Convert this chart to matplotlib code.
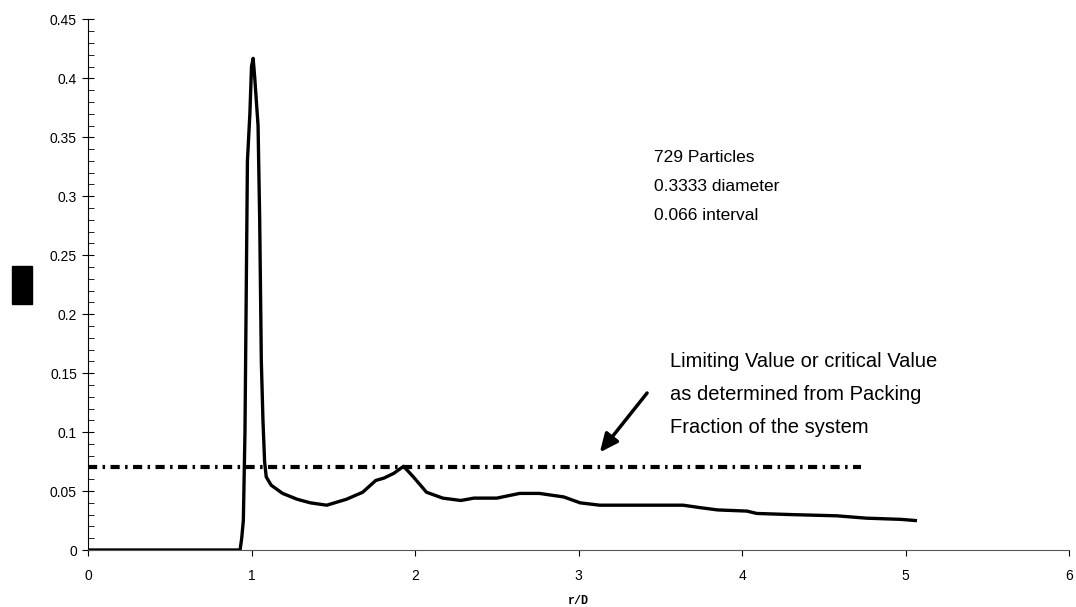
import matplotlib.pyplot as plt
from matplotlib.patches import Rectangle

# g(r) curve
r_over_d = [0.0, 0.5, 0.93, 0.94, 0.95, 0.96, 0.975, 0.99, 1.0, 1.01, 1.02, 1.04,
            1.05, 1.06, 1.07, 1.08, 1.09, 1.12, 1.19, 1.28, 1.36, 1.46, 1.58, 1.68,
            1.76, 1.81, 1.87, 1.93, 1.99, 2.07, 2.17, 2.28, 2.36, 2.50, 2.64, 2.76,
            2.91, 3.01, 3.13, 3.31, 3.64, 3.74, 3.85, 4.03, 4.09, 4.31, 4.58, 4.76,
            4.97, 5.06]
g_values = [0.0, 0.0, 0.0, 0.01, 0.025, 0.10, 0.33, 0.37, 0.41, 0.417, 0.40, 0.36,
            0.28, 0.16, 0.11, 0.075, 0.062, 0.055, 0.048, 0.043, 0.040, 0.038, 0.043, 0.049,
            0.059, 0.061, 0.065, 0.071, 0.062, 0.049, 0.044, 0.042, 0.044, 0.044, 0.048, 0.048,
            0.045, 0.040, 0.038, 0.038, 0.038, 0.036, 0.034, 0.033, 0.031, 0.030, 0.029, 0.027,
            0.026, 0.025]

limit_value = 0.07
limit_x = [0.0, 4.73]

info_text = "729 Particles\n0.3333 diameter\n0.066 interval"
note_text = "Limiting Value or critical Value\nas determined from Packing\nFraction of the system"

plt.rcParams['font.family'] = ['Liberation Sans', 'DejaVu Sans']

fig = plt.figure(figsize=(10.76, 6.07), dpi=100)
ax = fig.add_axes([0.0818, 0.0939, 0.9117, 0.8741])

ax.plot(r_over_d, g_values, color='black', lw=2.4, solid_joinstyle='round')
ax.plot(limit_x, [limit_value, limit_value], color='black', lw=3,
        linestyle=(0, (2.2, 1.3, 0.6, 1.3)))

ax.set_xlim(0, 6)
ax.set_ylim(0, 0.45)
ax.set_xticks(range(0, 7))
ax.set_yticks([i * 0.05 for i in range(10)])
ax.set_yticklabels(['0', '0.05', '0.1', '0.15', '0.2', '0.25', '0.3', '0.35', '0.4', '0.45'])
ax.set_yticks([i * 0.01 for i in range(46)], minor=True)

for s in ['top', 'right']:
    ax.spines[s].set_visible(False)
ax.spines['left'].set_linewidth(0.8)
ax.spines['bottom'].set_linewidth(0.8)
ax.spines['bottom'].set_color('#555555')

ax.tick_params(axis='y', which='major', direction='inout', length=8, width=0.8,
               labelsize=10, pad=4)
ax.tick_params(axis='y', which='minor', direction='in', length=4, width=0.6)
ax.tick_params(axis='x', which='major', direction='out', length=4, width=0.8,
               labelsize=10, pad=10)

ax.set_xlabel('r/D', family='Liberation Mono', fontweight='bold', fontsize=8.5,
              labelpad=8)

ax.text(3.46, 0.339, info_text, fontsize=12.5, linespacing=2.15, va='top', ha='left')
ax.text(3.56, 0.168, note_text, fontsize=14.5, linespacing=1.95, va='top', ha='left')
ax.annotate('', xy=(3.12, 0.081), xytext=(3.43, 0.135),
            arrowprops=dict(arrowstyle='-|>,head_length=1.1,head_width=0.5',
                            color='black', lw=2.5))

# black box where the y label sits
fig.patches.append(Rectangle((12 / 1076, 1 - 304 / 607), 20 / 1076, 38 / 607,
                             transform=fig.transFigure, color='black'))

fig.savefig('out.png', dpi=100)
